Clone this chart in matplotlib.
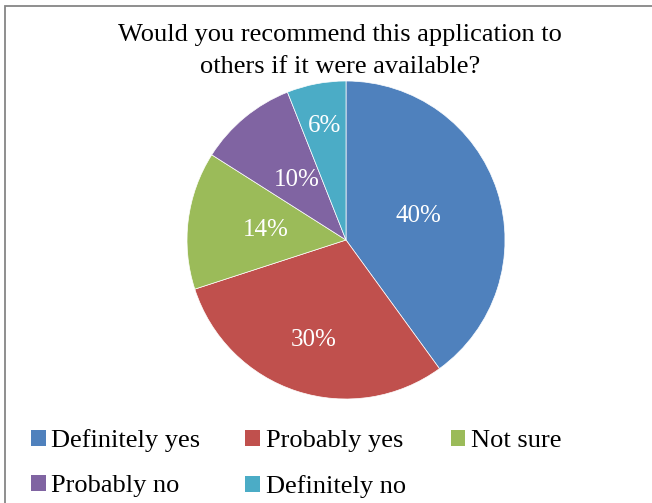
import matplotlib
matplotlib.use("Agg")
import matplotlib.pyplot as plt
from matplotlib.patches import Patch, Rectangle
import numpy as np

title = "Would you recommend this application to\nothers if it were available?"
categories = ["Definitely yes", "Probably yes", "Not sure", "Probably no", "Definitely no"]
values = [40, 30, 14, 10, 6]
colors = ["#4F81BD", "#C0504D", "#9BBB59", "#8064A2", "#4BACC6"]
label_dist = [0.48, 0.66, 0.51, 0.49, 0.73]

plt.rcParams['font.family'] = ['Liberation Serif', 'DejaVu Serif']

W, H = 652, 503
fig = plt.figure(figsize=(W / 100, H / 100), dpi=100)
fig.patch.set_facecolor("white")

# outer frame (cropped on right and bottom)
fig.patches.append(Rectangle((5 / W, -0.05), 1.2, 1 - 6 / H + 0.05, transform=fig.transFigure,
                             fill=False, edgecolor="#868686", linewidth=1.3))

cx, cy, r = 346, 240, 159
ax = fig.add_axes([(cx - r) / W, (H - cy - r) / H, 2 * r / W, 2 * r / H])
wedges, _ = ax.pie(values, colors=colors, startangle=90, counterclock=False, radius=1,
                   wedgeprops=dict(edgecolor="white", linewidth=0.5))
for w, v, d in zip(wedges, values, label_dist):
    mid = np.deg2rad((w.theta1 + w.theta2) / 2)
    ax.text(d * np.cos(mid), d * np.sin(mid), f"{v}%", ha="center", va="center",
            color="white", fontsize=18)
ax.set_xlim(-1, 1)
ax.set_ylim(-1, 1)
ax.set_aspect("equal")
ax.axis("off")

fig.text(340 / W, 1 - 51 / H, title, ha="center", va="center", fontsize=19, linespacing=1.55)

# legend filled row-wise: 3 columns, 2 rows
order = [0, 3, 1, 4, 2]
handles = [Patch(facecolor=colors[i], edgecolor="none") for i in order]
labels = [categories[i] for i in order]
fig.legend(handles, labels, loc="upper left", bbox_to_anchor=(31 / W, 1 - 429 / H),
           ncol=3, frameon=False, fontsize=19, handlelength=0.55, handleheight=0.55,
           handletextpad=0.22, columnspacing=1.7, labelspacing=0.88, borderpad=0,
           borderaxespad=0)

fig.savefig("out.png", dpi=100)
